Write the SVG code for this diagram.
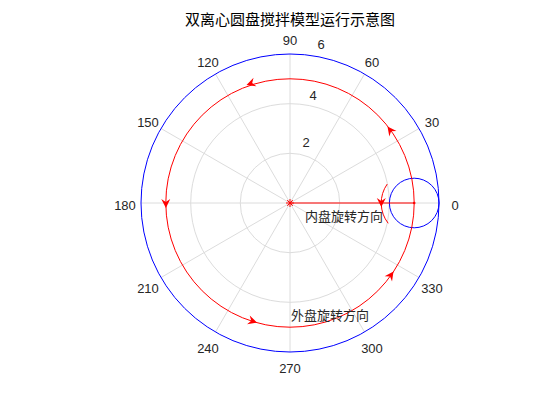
<svg xmlns="http://www.w3.org/2000/svg" xmlns:xlink="http://www.w3.org/1999/xlink" width="560" height="420" viewBox="0 0 560 420">
<style>
.grid{fill:none;stroke:#dcdcdc;stroke-width:1}
.lbl{font-family:"Liberation Sans",Arial,sans-serif;font-size:13px;fill:#262626;text-anchor:middle}
.cn{font-family:"Noto Sans CJK SC",sans-serif;font-size:13px;fill:#262626}
.red{fill:none;stroke:#ff0000;stroke-width:1}
.blue{fill:none;stroke:#0000ff;stroke-width:1}
.ah{fill:#ff0000;stroke:none}
</style>
<defs>
<path id="ah" d="M0,0 L-9,-4.5 L-6,0 L-9,4.5 Z"/>
</defs>
<rect width="560" height="420" fill="#ffffff"/>
<text x="290" y="25" font-family="Noto Sans CJK SC,sans-serif" font-size="15" fill="#000" text-anchor="middle">双离心圆盘搅拌模型运行示意图</text>
<g id="grid">
<circle class="grid" cx="290" cy="203" r="49.7"/>
<circle class="grid" cx="290" cy="203" r="99.3"/>
<line class="grid" x1="141" y1="203" x2="439" y2="203"/>
<line class="grid" x1="161" y1="277.5" x2="419" y2="128.5"/>
<line class="grid" x1="215.5" y1="332" x2="364.5" y2="74"/>
<line class="grid" x1="290" y1="352" x2="290" y2="54"/>
<line class="grid" x1="364.5" y1="332" x2="215.5" y2="74"/>
<line class="grid" x1="419" y1="277.5" x2="161" y2="128.5"/>
</g>
<g id="angle-labels">
<text class="lbl" x="455" y="210">0</text>
<text class="lbl" x="432" y="127">30</text>
<text class="lbl" x="372" y="67">60</text>
<text class="lbl" x="290" y="45">90</text>
<text class="lbl" x="208" y="67">120</text>
<text class="lbl" x="148" y="127">150</text>
<text class="lbl" x="125" y="210">180</text>
<text class="lbl" x="148" y="293">210</text>
<text class="lbl" x="208" y="353">240</text>
<text class="lbl" x="290" y="373">270</text>
<text class="lbl" x="372" y="353">300</text>
<text class="lbl" x="432" y="293">330</text>
<text class="lbl" x="306" y="147">2</text>
<text class="lbl" x="313" y="100">4</text>
<text class="lbl" x="321" y="49">6</text>
</g>
<g id="outer-disc">
<circle class="blue" cx="290" cy="203" r="149"/>
</g>
<g id="inner-disc">
<circle class="blue" cx="414.2" cy="203" r="24.8"/>
<circle cx="414.2" cy="203" r="1.3" fill="#ff0000"/>
</g>
<g id="orbit">
<circle class="red" cx="290" cy="203" r="124.2"/>
</g>
<g id="center">
<path d="M286,203 H294 M290,199 V207 M287.2,200.2 L292.8,205.8 M292.8,200.2 L287.2,205.8" stroke="#ff0000" stroke-width="1" fill="none"/>
</g>
<g id="connectors">
<line class="red" x1="290" y1="203" x2="414.2" y2="203"/>
<path class="red" d="M387.2,184.1 A33,33 0 0 0 388.2,223.3"/>
<use href="#ah" class="ah" transform="translate(381.3,207) rotate(90)"/>
<use href="#ah" class="ah" transform="translate(387.5,126.5) rotate(-127)"/>
<use href="#ah" class="ah" transform="translate(246.5,85) rotate(161)"/>
<use href="#ah" class="ah" transform="translate(165.9,208) rotate(89)"/>
<use href="#ah" class="ah" transform="translate(257,322.5) rotate(17)"/>
<use href="#ah" class="ah" transform="translate(393.5,271.5) rotate(-55)"/>
</g>
<g id="labels">
<text class="cn" x="305" y="221">内盘旋转方向</text>
<text class="cn" x="291" y="320">外盘旋转方向</text>
</g>
</svg>
